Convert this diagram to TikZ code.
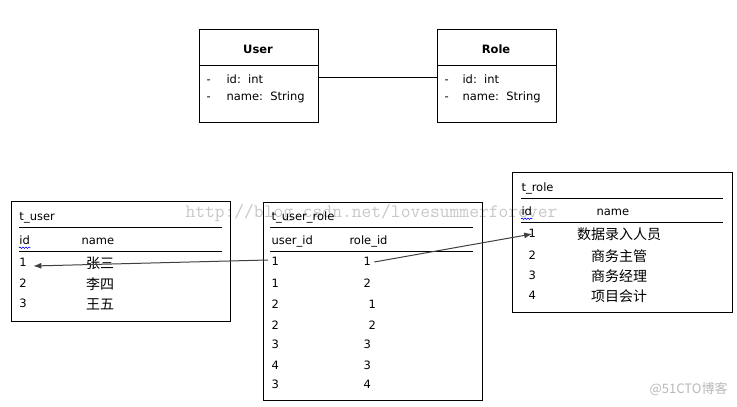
\documentclass[tikz,border=0pt]{standalone}
\usepackage{fontspec}
\setmainfont{DejaVu Sans}
\newfontfamily\cjk{Noto Sans CJK SC}
\usetikzlibrary{decorations.pathmorphing, arrows.meta}

\begin{document}
\begin{tikzpicture}[x=1pt, y=-1pt, line width=1pt,
  cell/.style={anchor=west, inner sep=0pt, text height=8.5pt, text depth=2pt, font=\fontsize{11.5}{13}\selectfont},
  zh/.style={anchor=center, inner sep=0pt, font=\cjk\fontsize{14}{16}\selectfont},
  box/.style={draw, inner sep=0pt, anchor=north west},
  link/.style={draw=black!75, -{Latex[length=8pt, width=6pt]}},
  spell/.style={draw=blue, line width=0.6pt, decorate, decoration={snake, amplitude=0.7pt, segment length=3pt}}]
\useasboundingbox (0,0) rectangle (737,407);
% watermarks
\node[anchor=west, inner sep=0pt, text=black!22, font=\ttfamily\fontsize{19}{19}\selectfont] (csdn) at (185,213) {http://blog.csdn.net/lovesummerforever};
\node[anchor=east, inner sep=0pt, text=black!28, font=\cjk\fontsize{13}{13}\selectfont] (cto) at (728,389) {@51CTO博客};
% class diagram
\node[box, minimum width=119pt, minimum height=93pt] (user) at (199,29) {};
\draw (199,65) -- (318,65);
\node[font=\bfseries\fontsize{11.5}{13}\selectfont] (usertitle) at (258,49) {User};
\node[cell] (userdash1) at (206,80) {-};
\node[cell] (userid) at (226,80) {id:~~int};
\node[cell] (userdash2) at (206,97) {-};
\node[cell] (username) at (226,97) {name:~~String};
\node[box, minimum width=119pt, minimum height=93pt] (role) at (437,29) {};
\draw (437,65) -- (556,65);
\node[font=\bfseries\fontsize{11.5}{13}\selectfont] (roletitle) at (496,49) {Role};
\node[cell] (roledash1) at (444,80) {-};
\node[cell] (roleid) at (462,80) {id:~~int};
\node[cell] (roledash2) at (444,97) {-};
\node[cell] (rolename) at (462,97) {name:~~String};
\coordinate (assoc) at (0,77);
\draw (user.east |- assoc) -- (role.west |- assoc);
% t_user
\node[box, minimum width=219pt, minimum height=120pt] (tuser) at (11,201) {};
\node[cell] (tusertitle) at (19,217) {t\_user};
\draw (19,227) -- (222,227);
\node[cell] (tuserid) at (19,241) {id};
\node[cell] (tusername) at (81,241) {name};
\draw[spell] ([yshift=-1pt]tuserid.south west) -- ([yshift=-1pt]tuserid.south east);
\draw (19,251) -- (222,251);
\foreach \i/\y/\n in {1/263/张三, 2/284/李四, 3/304/王五} {
  \node[cell] (u\i) at (19,\y) {\i};
  \node[zh] (un\i) at (100,\y) {\n};
}
% t_user_role
\node[box, minimum width=219pt, minimum height=198pt] (tur) at (263,202) {};
\node[cell] (turtitle) at (271,217) {t\_user\_role};
\draw (270,227) -- (473,227);
\node[cell] (turuser) at (271,241) {user\_id};
\node[cell] (turrole) at (349,241) {role\_id};
\draw (270,251) -- (473,251);
\foreach \i/\y/\a/\b/\x in {1/262/1/1/363, 2/284/1/2/363, 3/305/2/1/368, 4/326/2/2/368, 5/345/3/3/363, 6/366/4/3/363, 7/385/3/4/363} {
  \node[cell] (ur\i) at (271,\y) {\a};
  \node[cell] (rr\i) at (\x,\y) {\b};
}
% t_role
\node[box, minimum width=220pt, minimum height=140pt] (trole) at (512,172) {};
\node[cell] (troletitle) at (521,188) {t\_role};
\draw (521,198) -- (723,198);
\node[cell] (troleid) at (521,212) {id};
\node[cell] (trolename) at (596,212) {name};
\draw[spell] ([yshift=-1pt]troleid.south west) -- ([yshift=-1pt]troleid.south east);
\draw (521,222) -- (723,222);
\foreach \i/\y/\n in {1/234/数据录入人员, 2/256/商务主管, 3/276/商务经理, 4/296/项目会计} {
  \node[cell] (r\i) at (528,\y) {\i};
  \node[zh] (rn\i) at (619,\y) {\n};
}
% links
\draw[link] ([xshift=-3pt, yshift=2pt]ur1.west) -- ([xshift=6pt, yshift=-3pt]u1.east);
\draw[link] ([xshift=3pt]rr1.east) -- (r1.center);
\end{tikzpicture}
\end{document}
